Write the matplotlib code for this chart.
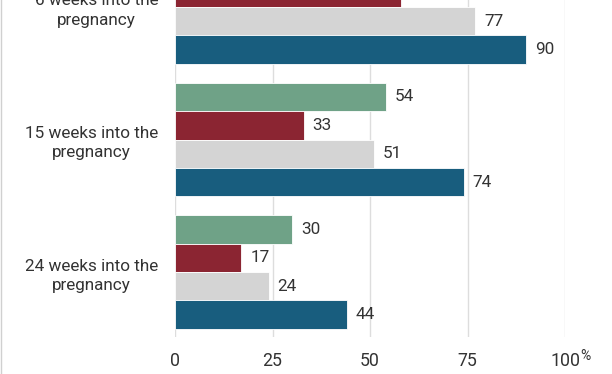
import matplotlib
matplotlib.use("Agg")
import matplotlib.pyplot as plt
from matplotlib.lines import Line2D
import numpy as np

plt.rcParams['font.family'] = ['Roboto', 'DejaVu Sans']

categories = ["6 weeks into the\npregnancy", "15 weeks into the\npregnancy", "24 weeks into the\npregnancy"]
series_green = [80, 54, 30]
series_red = [58, 33, 17]
series_gray = [77, 51, 24]
series_blue = [90, 74, 44]
x_ticks = [0, 25, 50, 75, 100]
x_ticklabels = ["0", "25", "50", "75", "100"]

colors = ["#6fa287", "#8b2532", "#d4d4d4", "#185d7e"]
series = [series_green, series_red, series_gray, series_blue]

W, H = 612, 374
fig = plt.figure(figsize=(W / 100, H / 100), dpi=100)
left_px, right_px, top_px, bot_px = 175, 565, -58, 337
ax = fig.add_axes([left_px / W, (H - bot_px) / H, (right_px - left_px) / W, (bot_px - top_px) / H])

h = 0.2145
offsets = [-1.5 * h, -0.5 * h, 0.5 * h, 1.5 * h]
y = np.arange(len(categories))
for s, c, off in zip(series, colors, offsets):
    ax.barh(y + off, s, height=h, color=c, edgecolor="white", linewidth=0.6, zorder=3)
    for yy, v in zip(y + off, s):
        ax.annotate(str(v), (v, yy), xytext=(6.5, 0), textcoords="offset points",
                    va="center", ha="left", fontsize=12.3, color="#333333")

ax.set_xlim(0, 100)
ax.set_ylim(2.49, -0.49)
ax.set_xticks(x_ticks)
ax.set_xticklabels(x_ticklabels)
ax.set_yticks(y)
ax.set_yticklabels(categories, multialignment="center", linespacing=1.35)
ax.tick_params(axis="both", length=0, labelcolor="#333333")
ax.tick_params(axis="y", pad=12, labelsize=12.3)
ax.tick_params(axis="x", pad=10.5, labelsize=12.8)
ax.grid(axis="x", color="#dddddd", linewidth=1, zorder=0)
ax.set_axisbelow(True)
for sp in ax.spines.values():
    sp.set_visible(False)

fig.text(580 / W, (H - 348.5) / H, "%", fontsize=10, color="#333333", ha="left", va="top")
fig.add_artist(Line2D([0.5 / W, 0.5 / W], [0, 1], transform=fig.transFigure, color="#d0d0d0", linewidth=1))

fig.savefig("out.png", dpi=100)
